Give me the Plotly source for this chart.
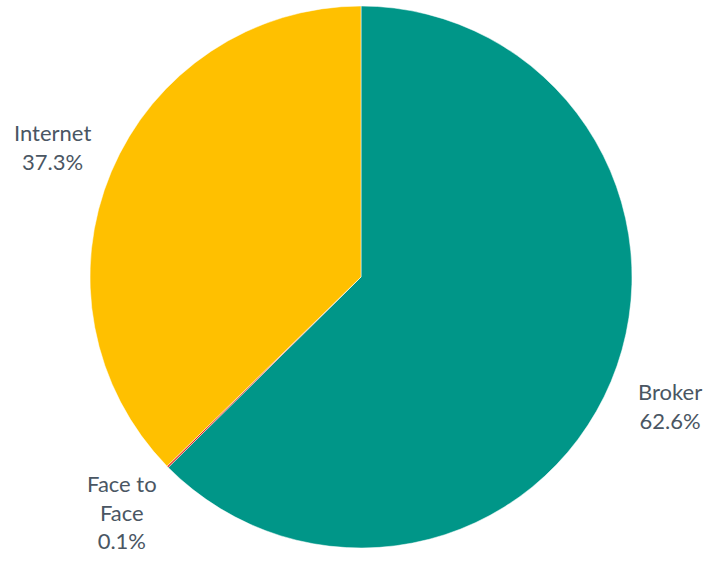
import math
import plotly.graph_objects as go

# Sales channel shares (%)
channels = ["Broker", "Face to Face", "Internet"]
shares = [62.6, 0.1, 37.3]
label_text = ["Broker", "Face to<br>Face", "Internet"]
colors = ["#009688", "#E0201B", "#FFC000"]

W, H = 707, 573
cx_px, cy_px, r_px = 361, 277, 271

fig = go.Figure()
fig.add_trace(go.Pie(
    labels=channels,
    values=shares,
    sort=False,
    direction="clockwise",
    rotation=0,
    marker=dict(colors=colors, line=dict(color="white", width=0.5)),
    textinfo="none",
    hoverinfo="label+percent",
    showlegend=False,
    domain=dict(x=[(cx_px - r_px) / W, (cx_px + r_px) / W],
                y=[(H - cy_px - r_px) / H, (H - cy_px + r_px) / H]),
))

# labels placed at the middle angle of each slice, outside the pie
total = sum(shares)
cum = 0
label_r = 335
annotations = []
for name, val in zip(label_text, shares):
    mid = (cum + val / 2) / total * 2 * math.pi
    cum += val
    x = (cx_px + label_r * math.sin(mid)) / W
    y = (H - cy_px + label_r * math.cos(mid)) / H
    annotations.append(dict(
        x=x, y=y, xref="paper", yref="paper",
        xanchor="center", yanchor="middle",
        text=f"{name}<br>{val:.1f}%",
        showarrow=False, align="center",
        font=dict(family="Lato, Open Sans, sans-serif", size=22, color="#4A5663"),
    ))

fig.update_layout(
    width=W, height=H,
    margin=dict(l=0, r=0, t=0, b=0),
    paper_bgcolor="white",
    plot_bgcolor="white",
    annotations=annotations,
)

fig.write_html("out.html", config={"displayModeBar": False},
               post_script="document.body.style.margin='0';")
